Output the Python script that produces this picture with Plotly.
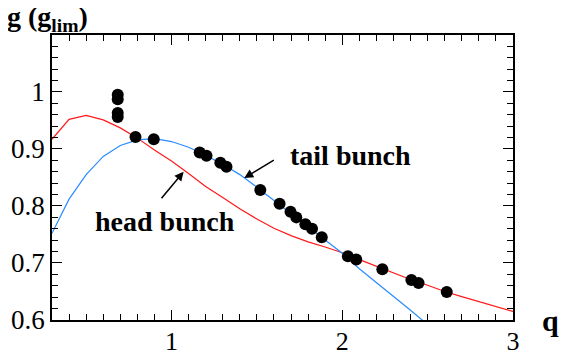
import plotly.graph_objects as go

# ---- data ----
q_grid = [0.3, 0.4, 0.5, 0.6, 0.7, 0.8, 0.9, 1.0, 1.1, 1.2, 1.3, 1.4, 1.5, 1.6, 1.7,
          1.8, 1.9, 2.0, 2.1, 2.2, 2.3, 2.4, 2.5, 2.6, 2.7, 2.8, 2.9, 3.0]
head_g = [0.917, 0.952, 0.959, 0.951, 0.937, 0.919, 0.898, 0.879, 0.857, 0.834, 0.815,
          0.795, 0.777, 0.761, 0.748, 0.737, 0.728, 0.718, 0.706, 0.694, 0.682, 0.671,
          0.661, 0.650, 0.641, 0.632, 0.623, 0.615]
tail_q = [0.3, 0.4, 0.5, 0.6, 0.7, 0.8, 0.9, 1.0, 1.1, 1.2, 1.3, 1.4, 1.5, 1.6, 1.7,
          1.8, 1.9, 2.0, 2.1, 2.2, 2.3, 2.4, 2.5]
tail_g = [0.752, 0.812, 0.855, 0.887, 0.906, 0.916, 0.918, 0.913, 0.903, 0.889, 0.873,
          0.855, 0.833, 0.810, 0.786, 0.763, 0.741, 0.717, 0.690, 0.666, 0.641, 0.617, 0.592]
meas_q = [0.685, 0.685, 0.685, 0.685, 0.789, 0.896, 1.165, 1.205, 1.286, 1.322, 1.52,
          1.633, 1.697, 1.731, 1.784, 1.823, 1.88, 2.033, 2.082, 2.235, 2.405, 2.447, 2.612]
meas_g = [0.995, 0.987, 0.963, 0.956, 0.921, 0.917, 0.894, 0.888, 0.876, 0.869, 0.828,
          0.804, 0.790, 0.780, 0.768, 0.760, 0.745, 0.712, 0.706, 0.689, 0.670, 0.665, 0.649]

FONT = "Liberation Serif"

fig = go.Figure()
fig.add_trace(go.Scatter(x=q_grid, y=head_g, mode="lines",
                         line=dict(color="#ff1a1a", width=1.2), hoverinfo="skip"))
fig.add_trace(go.Scatter(x=tail_q, y=tail_g, mode="lines",
                         line=dict(color="#2a8cff", width=1.2), hoverinfo="skip"))
fig.add_trace(go.Scatter(x=meas_q, y=meas_g, mode="markers",
                         marker=dict(color="black", size=12), hoverinfo="skip"))

fig.update_xaxes(range=[0.3, 3.0001], dtick=1, tick0=0, ticks="inside", ticklen=10,
                 tickwidth=1.2, tickcolor="#000000",
                 minor=dict(dtick=0.1, ticklen=6, ticks="inside", tickcolor="#000000"),
                 showline=True, linecolor="#000000", linewidth=1.5, mirror="allticks",
                 showgrid=False, zeroline=False, automargin=False,
                 ticklabelstandoff=-3,
                 tickfont=dict(family=FONT, size=26, color="#000000"))
fig.update_yaxes(range=[0.6, 1.0999], dtick=0.1, tick0=0, ticks="inside", ticklen=10,
                 tickwidth=1.2, tickcolor="#000000",
                 minor=dict(dtick=0.02, ticklen=6, ticks="inside", tickcolor="#000000"),
                 showline=True, linecolor="#000000", linewidth=1.5, mirror="allticks",
                 showgrid=False, zeroline=False, automargin=False,
                 tickfont=dict(family=FONT, size=27, color="#000000"))

annots = [
    dict(x=-0.102, y=1.058, xref="paper", yref="paper", xanchor="left", yanchor="middle",
         text="<b>g (g<sub>lim</sub>)</b>", showarrow=False,
         font=dict(family=FONT, size=28, color="#000000")),
    dict(x=1.058, y=0.0, xref="paper", yref="paper", xanchor="left", yanchor="middle",
         text="<b>q</b>", showarrow=False, font=dict(family=FONT, size=30, color="#000000")),
    dict(x=2.047, y=0.889, xref="x", yref="y", text="<b>tail bunch</b>", showarrow=False,
         font=dict(family=FONT, size=28, color="#000000")),
    dict(x=0.963, y=0.772, xref="x", yref="y", text="<b>head bunch</b>", showarrow=False,
         font=dict(family=FONT, size=28, color="#000000")),
    dict(x=1.426, y=0.849, ax=1.608, ay=0.882, xref="x", yref="y", axref="x", ayref="y",
         text="", showarrow=True, arrowhead=2, arrowsize=1.2, arrowwidth=1.5, arrowcolor="#000000"),
    dict(x=1.071, y=0.860, ax=0.934, ay=0.811, xref="x", yref="y", axref="x", ayref="y",
         text="", showarrow=True, arrowhead=2, arrowsize=1.2, arrowwidth=1.5, arrowcolor="#000000"),
]

fig.update_layout(width=562, height=350, margin=dict(l=44, r=57, t=27, b=38),
                  paper_bgcolor="white", plot_bgcolor="white", showlegend=False,
                  annotations=annots)

fig.write_html("out.html")
